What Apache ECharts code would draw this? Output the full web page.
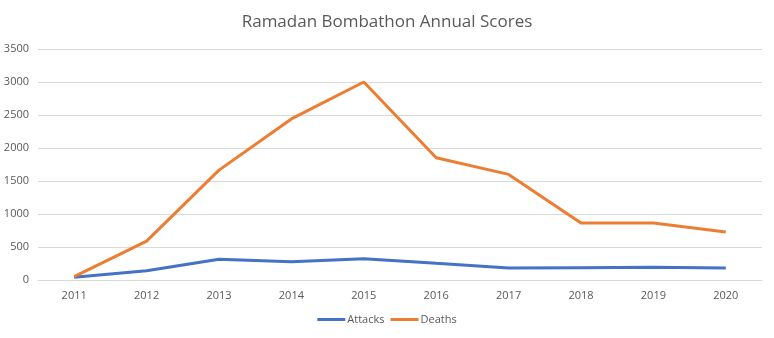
<!DOCTYPE html>
<html><head><meta charset="utf-8">
<script src="https://cdn.jsdelivr.net/npm/echarts@6/dist/echarts.min.js"></script>
<style>html,body{margin:0;padding:0;background:#fff}#c{width:774px;height:338px}</style>
</head><body><div id="c"></div>
<script>
const years = ['2011','2012','2013','2014','2015','2016','2017','2018','2019','2020'];
const attacks = [40, 140, 313, 278, 323, 252, 182, 187, 192, 182];
const deaths = [50, 590, 1665, 2440, 3000, 1853, 1600, 865, 865, 727];
const yTicks = [0, 500, 1000, 1500, 2000, 2500, 3000, 3500];

const chart = echarts.init(document.getElementById('c'), null, {renderer: 'canvas'});
const font = '"Open Sans", "Liberation Sans", sans-serif';
chart.setOption({
  animation: false,
  backgroundColor: '#fff',
  title: {
    text: 'Ramadan Bombathon Annual Scores',
    left: 'center', top: 9,
    textStyle: {fontFamily: font, fontSize: 17, fontWeight: 'normal', color: '#595959'}
  },
  grid: {left: 38, right: 12, top: 49, bottom: 58, containLabel: false},
  legend: {
    bottom: 8, left: 'center',
    itemWidth: 28, itemHeight: 3, itemGap: 6,
    icon: 'rect',
    textStyle: {fontFamily: font, fontSize: 11, color: '#595959', padding: [0,0,0,-3]},
    data: ['Attacks', 'Deaths']
  },
  xAxis: {
    type: 'category', data: years, boundaryGap: true,
    axisLine: {lineStyle: {color: '#d9d9d9'}},
    axisTick: {show: false},
    axisLabel: {fontFamily: font, fontSize: 11, color: '#595959', margin: 10}
  },
  yAxis: {
    type: 'value', min: yTicks[0], max: yTicks[yTicks.length-1], interval: 500,
    axisLine: {show: false}, axisTick: {show: false},
    splitLine: {lineStyle: {color: '#d9d9d9'}},
    axisLabel: {fontFamily: font, fontSize: 11, color: '#595959', margin: 9,
      formatter: v => String(v)}
  },
  series: [
    {name: 'Attacks', type: 'line', data: attacks, symbol: 'none',
     lineStyle: {color: '#4472C4', width: 3}, itemStyle: {color: '#4472C4'}},
    {name: 'Deaths', type: 'line', data: deaths, symbol: 'none',
     lineStyle: {color: '#ED7D31', width: 3}, itemStyle: {color: '#ED7D31'}}
  ]
});
</script></body></html>
